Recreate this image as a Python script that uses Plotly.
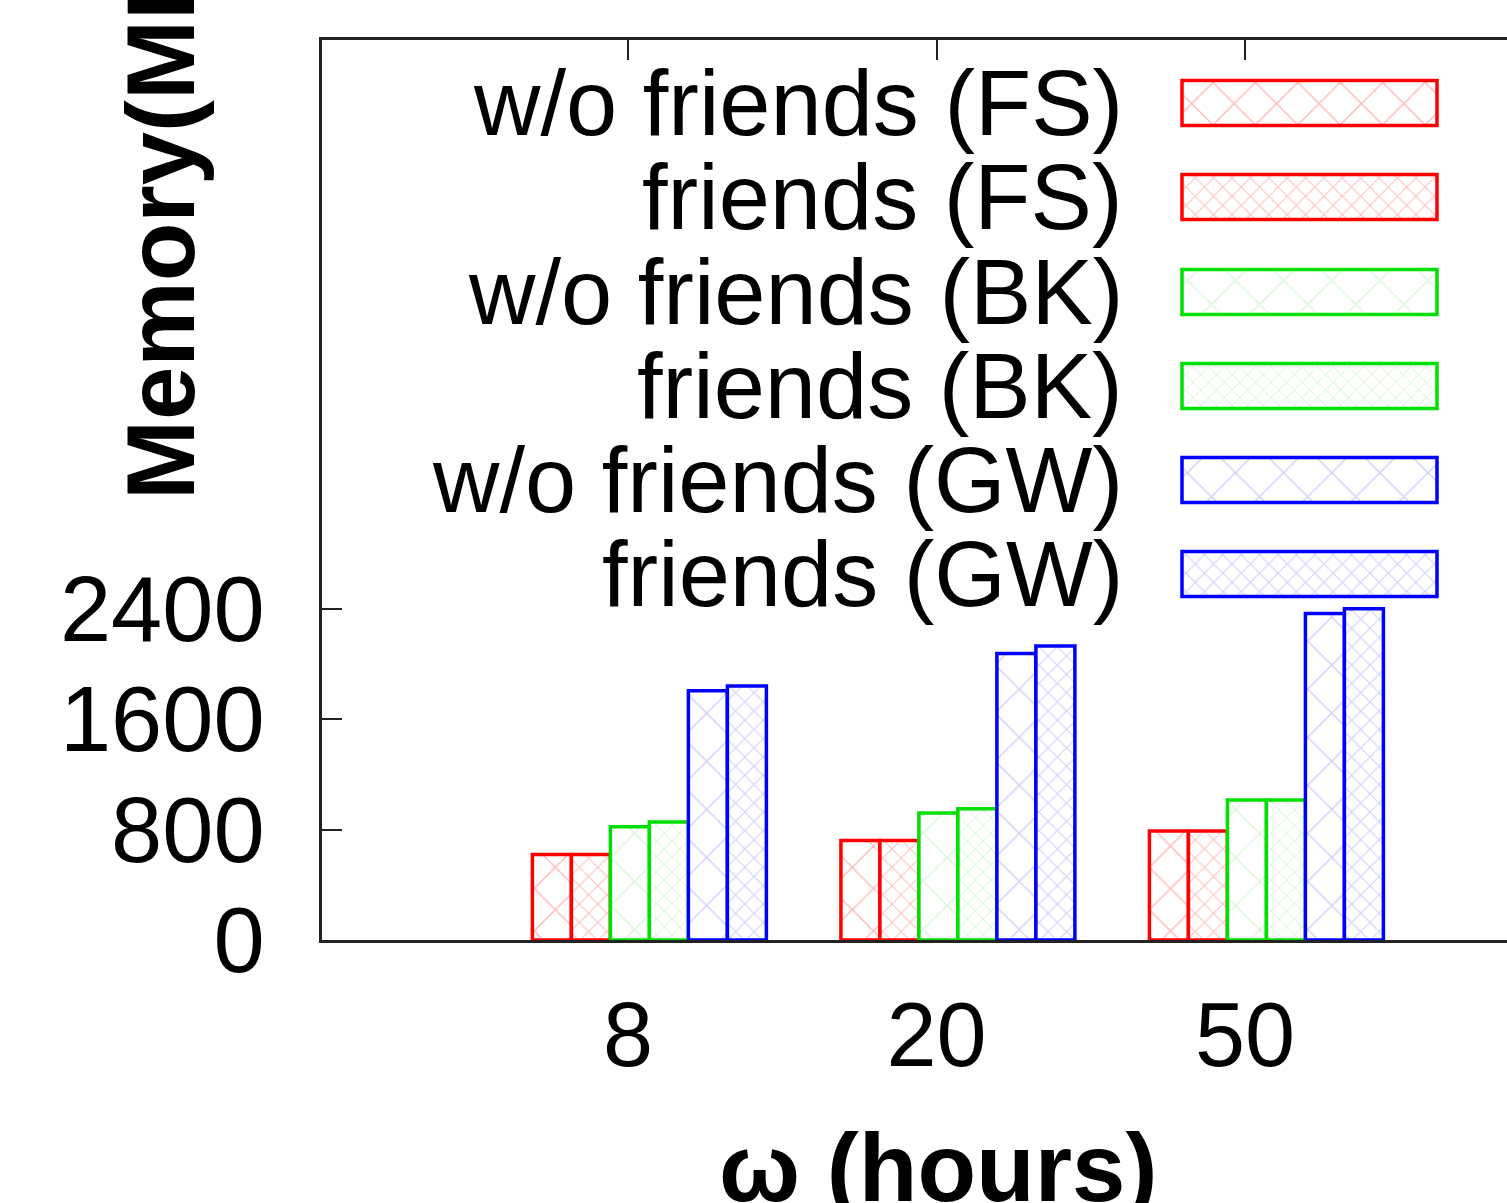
import plotly.graph_objects as go

# ---------------- data ----------------
categories = ["8", "20", "50"]
series_names = [
    "w/o friends (FS)", "friends (FS)",
    "w/o friends (BK)", "friends (BK)",
    "w/o friends (GW)", "friends (GW)",
]
wo_friends_FS = [620, 720, 790]
friends_FS = [620, 720, 790]
wo_friends_BK = [820, 920, 1015]
friends_BK = [855, 950, 1015]
wo_friends_GW = [1805, 2075, 2365]
friends_GW = [1840, 2130, 2400]
y_tick_values = [0, 800, 1600, 2400]

series_values = [wo_friends_FS, friends_FS, wo_friends_BK,
                 friends_BK, wo_friends_GW, friends_GW]

# ---------------- styles ----------------
W, H = 1507, 1203
ML, MT, MB, MR = 322, 40, 263, 0
PW, PH = W - ML - MR, H - MT - MB

styles = [
    dict(line="#ff0000", fg="rgba(255,0,0,0.55)", size=30, sol=0.09),
    dict(line="#ff0000", fg="rgba(255,0,0,0.50)", size=13, sol=0.15),
    dict(line="#00e000", fg="rgba(0,200,0,0.30)", size=34, sol=0.08),
    dict(line="#00e000", fg="rgba(0,200,0,0.35)", size=11, sol=0.16),
    dict(line="#0000ff", fg="rgba(0,0,255,0.38)", size=34, sol=0.08),
    dict(line="#0000ff", fg="rgba(0,0,255,0.38)", size=13, sol=0.15),
]

bar_w = 0.1264
group_start = -0.31
FONT = "Liberation Sans, Arial, sans-serif"

fig = go.Figure()

for k, (name, vals, st) in enumerate(zip(series_names, series_values, styles)):
    fig.add_trace(go.Bar(
        x=categories, y=vals, name=name,
        width=bar_w, offset=group_start + k * bar_w,
        marker=dict(color="white",
                    line=dict(color=st["line"], width=3.5),
                    pattern=dict(shape="x", fgcolor=st["fg"], bgcolor="white",
                                 size=st["size"], solidity=st["sol"])),
        showlegend=False,
    ))

# ---------------- manual gnuplot-style legend ----------------
def px_to_fx(px):
    return (px - ML) / PW

def py_to_fy(py):
    return (MT + PH - py) / PH

row_py = [103, 197, 292, 386, 480, 574]
sw_x0, sw_x1 = 1182, 1437
sw_h = 45 / PH
text_right = 1125

for k, (name, st) in enumerate(zip(series_names, styles)):
    fy = py_to_fy(row_py[k])
    fig.add_trace(go.Bar(
        x=[px_to_fx(sw_x1) - px_to_fx(sw_x0)], y=[fy],
        base=[px_to_fx(sw_x0)], orientation="h",
        width=sw_h, offset=-sw_h / 2,
        xaxis="x2", yaxis="y2",
        marker=dict(color="white",
                    line=dict(color=st["line"], width=3.5),
                    pattern=dict(shape="x", fgcolor=st["fg"], bgcolor="white",
                                 size=st["size"], solidity=st["sol"])),
        showlegend=False, hoverinfo="skip",
    ))
    fig.add_annotation(
        text=name, xref="paper", yref="paper",
        x=px_to_fx(text_right), y=fy, xanchor="right", yanchor="middle",
        showarrow=False, font=dict(family=FONT, size=92, color="black"),
    )

# axis titles (cropped like in the reference)
fig.add_annotation(
    text="<b>ω (hours)</b>", xref="paper", yref="paper",
    x=px_to_fx(938), y=py_to_fy(1167), xanchor="center", yanchor="middle",
    showarrow=False, font=dict(family=FONT, size=96, color="black"),
)
fig.add_annotation(
    text="<b>Memory(MB)</b>", xref="paper", yref="paper", textangle=-90,
    x=px_to_fx(160), y=py_to_fy(210), xanchor="center", yanchor="middle",
    showarrow=False, font=dict(family=FONT, size=96, color="black"),
)

fig.update_layout(
    width=W, height=H,
    margin=dict(l=ML, r=MR, t=MT, b=MB, pad=0),
    paper_bgcolor="white", plot_bgcolor="white",
    barmode="overlay",
    font=dict(family=FONT, color="black"),
    xaxis=dict(
        type="category", range=[-0.992, 2.849],
        showgrid=False, zeroline=False,
        showline=True, linecolor="#222", linewidth=3, mirror="ticks",
        ticks="inside", ticklen=20, tickwidth=2, tickcolor="#222",
        tickfont=dict(size=90, family=FONT, color="black"),
        ticklabelstandoff=15, layer="below traces",
    ),
    yaxis=dict(
        range=[0, 6520], tickvals=y_tick_values,
        showgrid=False, zeroline=False,
        showline=True, linecolor="#222", linewidth=3, mirror=False,
        ticks="inside", ticklen=20, tickwidth=2, tickcolor="#222",
        tickfont=dict(size=92, family=FONT, color="black"),
        ticklabelstandoff=36,
    ),
    xaxis2=dict(overlaying="x", range=[0, 1], visible=False, fixedrange=True),
    yaxis2=dict(overlaying="y", range=[0, 1], visible=False, fixedrange=True),
)

fig.write_html("out.html")
